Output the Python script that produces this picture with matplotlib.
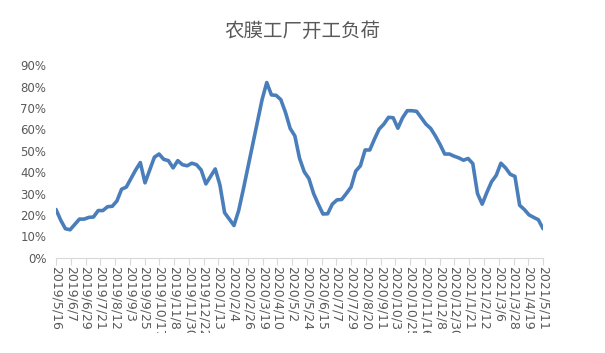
import pandas as pd
import matplotlib
matplotlib.use('Agg')
import matplotlib.pyplot as plt
import matplotlib.dates as mdates
from matplotlib.transforms import Bbox, TransformedBbox
from matplotlib.ticker import FuncFormatter, FixedLocator

plt.rcParams['font.family'] = ['Noto Sans CJK SC', 'DejaVu Sans']

# 开工负荷 (%), 约每周一个点
fuhe = [22.5, 17.5, 13.5, 13, 15.5, 18, 18, 18.8, 19, 22,
        22, 23.8, 24, 26.5, 32, 33, 37, 41, 44.5, 35,
        41, 47, 48.5, 46, 45.4, 42, 45.4, 43.5, 43, 44.2,
        43.5, 41, 34.5, 38, 41.5, 34, 21, 18, 15, 22,
        32, 42.5, 53, 63.5, 74, 82, 76.2, 76, 74, 68,
        60.5, 57, 46.5, 40.2, 37, 30, 25, 20.4, 20.5, 25,
        27, 27.2, 30, 33, 40.5, 43, 50.4, 50.4, 55.5, 60.2,
        62.5, 65.7, 65.5, 60.6, 65.5, 68.8, 68.8, 68.5, 65.5, 62.5,
        60.5, 57, 53, 48.5, 48.5, 47.5, 46.7, 45.6, 46.4, 44,
        30, 25, 30.5, 35.5, 38.5, 44.2, 42, 39, 38, 24.5,
        22.5, 20, 18.8, 17.7, 13.5]
riqi = pd.date_range('2019-05-16', '2021-05-11', periods=len(fuhe))
biaoqian = pd.date_range('2019-05-16', periods=34, freq='22D')

huise = '#595959'

fig = plt.figure(figsize=(6.05, 3.53), dpi=100)
ax = fig.add_axes([0.0926, 0.2705, 0.805, 0.544])

ax.plot(riqi, [v / 100 for v in fuhe], color='#4a7ebb', linewidth=2.6,
        solid_joinstyle='round', solid_capstyle='round')

ax.set_ylim(0, 0.9)
ax.set_yticks([i / 10 for i in range(10)])
ax.yaxis.set_major_formatter(FuncFormatter(lambda v, p: f'{v * 100:.0f}%'))
ax.set_xlim(riqi[0], riqi[-1])
ax.xaxis.set_major_locator(FixedLocator(mdates.date2num(biaoqian)))
ax.xaxis.set_major_formatter(FuncFormatter(
    lambda v, p: (lambda d: f'{d.year}/{d.month}/{d.day}')(mdates.num2date(v))))

for s in ['top', 'right', 'left']:
    ax.spines[s].set_visible(False)
ax.spines['bottom'].set_color('#d9d9d9')
ax.tick_params(axis='y', length=0, pad=7, labelsize=8.5, labelcolor=huise)
ax.tick_params(axis='x', length=5, color='#d9d9d9', direction='out',
               labelsize=9, labelcolor=huise, labelrotation=-90, pad=1)

for lbl in ax.get_yticklabels():
    lbl.set_family('DejaVu Sans')
for lbl in ax.get_xticklabels():
    lbl.set_family('DejaVu Sans')
    lbl.set_verticalalignment('top')
    lbl.set_horizontalalignment('center')
    lbl.set_clip_on(True)
    lbl.set_clip_box(TransformedBbox(Bbox([[0, 0.057], [1, 1]]), fig.transFigure))

fig.text(0.5, 0.91, '农膜工厂开工负荷', ha='center', va='center',
         fontsize=14, color=huise)

fig.savefig('out.png', dpi=100)
